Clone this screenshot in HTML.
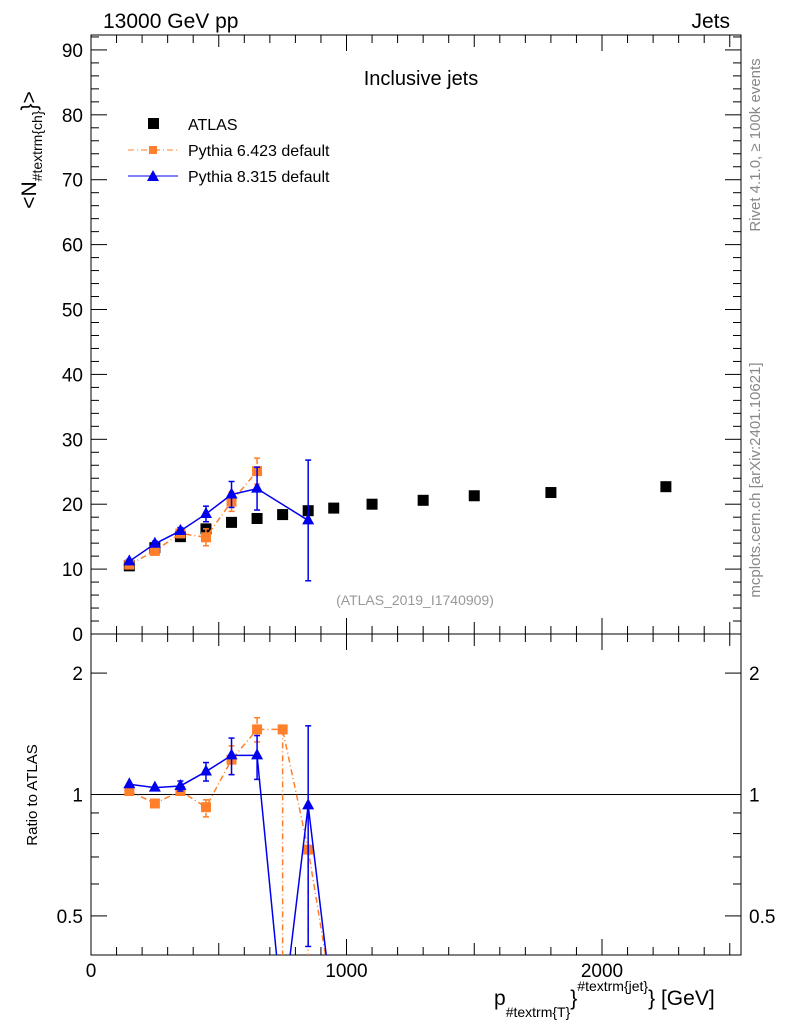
<!DOCTYPE html>
<html><head><meta charset="utf-8">
<style>
html,body{margin:0;padding:0;background:#fff;overflow:hidden;width:786px;height:1024px;}
svg{display:block;font-family:"Liberation Sans",sans-serif;}
</style></head>
<body>
<svg id="chart" width="786" height="1024" viewBox="0 0 786 1024">
<text x="103" y="28" font-size="21">13000 GeV pp</text>
<text x="730" y="28" font-size="21" text-anchor="end">Jets</text>
<text x="421" y="85" font-size="20" text-anchor="middle">Inclusive jets</text>
<text transform="translate(760,145) rotate(-90)" font-size="15" fill="#888" text-anchor="middle">Rivet 4.1.0, ≥ 100k events</text>
<text transform="translate(760,480) rotate(-90)" font-size="15" fill="#888" text-anchor="middle">mcplots.cern.ch [arXiv:2401.10621]</text>
<text x="415" y="605" font-size="14" fill="#999" text-anchor="middle">(ATLAS_2019_I1740909)</text>
<text transform="translate(36,150) rotate(-90)" font-size="21" text-anchor="middle">&lt;N<tspan font-size="14" dy="6">#textrm{ch}</tspan><tspan dy="-6">}&gt;</tspan></text>
<text transform="translate(37,795) rotate(-90)" font-size="15" text-anchor="middle">Ratio to ATLAS</text>
<text x="494" y="1005" font-size="21">p<tspan font-size="14" dy="12">#textrm{T}</tspan><tspan font-size="21" dy="-12">}</tspan><tspan font-size="14" dy="-14">#textrm{jet}</tspan><tspan font-size="21" dy="14">} [GeV]</tspan></text>
<g>
  <g><rect x="148" y="118" width="11" height="11" fill="#000"/><text x="188" y="130" font-size="16">ATLAS</text></g>
  <g><line x1="128" y1="150" x2="178" y2="150" stroke="#ff7f2a" stroke-dasharray="6,3,1,3"/><rect x="149" y="146" width="8" height="8" fill="#ff7f2a"/><text x="188" y="156" font-size="16">Pythia 6.423 default</text></g>
  <g><line x1="128" y1="176" x2="178" y2="176" stroke="#0000ee"/><polygon points="153,170 147,181 159,181" fill="#0000ee"/><text x="188" y="182" font-size="16">Pythia 8.315 default</text></g>
</g>
<g id="axes"></g>
<g id="marks"></g>
</svg>
<script>
const atlasX=[150,250,350,450,550,650,750,850,950,1100,1300,1500,1800,2250];
const atlasY=[10.5,13.3,15.0,16.2,17.2,17.8,18.4,19.0,19.4,20.0,20.6,21.3,21.8,22.7];
const py6X=[150,250,350,450,550,650];
const py6Y=[10.7,12.8,15.5,14.9,20.4,25.1];
const py6Up=[0.4,0.5,0.6,1.3,1.5,2.0];
const py6Dn=[0.4,0.5,0.6,1.3,1.5,2.0];
const py8X=[150,250,350,450,550,650,850];
const py8Y=[11.2,13.9,15.9,18.5,21.5,22.4,17.5];
const py8Up=[0.3,0.4,0.5,1.2,2.0,3.3,9.3];
const py8Dn=[0.3,0.4,0.5,1.2,2.0,3.3,9.3];
const r6X=[150,250,350,450,550,650,750,850,950];
const r6Y=[1.02,0.95,1.02,0.93,1.22,1.45,1.45,0.73,0.3];
const r6Up=[0,0,0,0.04,0.1,0.1,0,0,0];
const r6Dn=[0,0,0,0.05,0.1,0.1,1.44,0.72,0];
const r8X=[150,250,350,450,550,650,750,850,950];
const r8Y=[1.06,1.04,1.05,1.14,1.25,1.25,0.28,0.94,0.28];
const r8Up=[0,0,0.03,0.06,0.13,0.15,0,0.54,0];
const r8Dn=[0,0,0.03,0.06,0.13,0.16,0,0.52,0];
const yTicks=[0,10,20,30,40,50,60,70,80,90];
const rTicks=[0.5,1,2];
const xTicks=[0,1000,2000];

const L=91,R=741,T=35,MB=634,RB=955;
const X0=0,X1=2544,Y1=92.3,RMIN=0.4,RMAX=2.5;
const sx=v=>L+(v-X0)/(X1-X0)*(R-L);
const sy=v=>MB-v/Y1*(MB-T);
const sr=v=>RB-(Math.log(Math.max(v,0.01))-Math.log(RMIN))/(Math.log(RMAX)-Math.log(RMIN))*(RB-MB);
const NS='http://www.w3.org/2000/svg';
function mk(tag,attrs,parent){const e=document.createElementNS(NS,tag);for(const k in attrs)e.setAttribute(k,attrs[k]);parent.appendChild(e);return e;}
const axes=document.getElementById('axes'),marks=document.getElementById('marks');

let f=mk('rect',{x:L,y:T,width:R-L,height:MB-T,fill:'none',stroke:'#000','stroke-width':1},axes);


f=mk('rect',{x:L,y:MB,width:R-L,height:RB-MB,fill:'none',stroke:'#000','stroke-width':1},axes);


for(let v=0;v<=92;v+=2){const y=sy(v);const len=v%10===0?16:8;
 mk('line',{x1:L,y1:y,x2:L+len,y2:y,stroke:'#000'},axes);mk('line',{x1:R,y1:y,x2:R-len,y2:y,stroke:'#000'},axes);}
yTicks.forEach(v=>{const t=mk('text',{x:L-8,y:sy(v)+7,'font-size':19,'text-anchor':'end'},axes);t.textContent=v;
 
 });
for(let v=0;v<=2500;v+=100){const x=sx(v);const len=v%500===0?(v%1000===0?16:12):8;
 [[T,1],[MB,-1],[MB,1],[RB,-1]].forEach(([y0,d])=>mk('line',{x1:x,y1:y0,x2:x,y2:y0+d*len,stroke:'#000'},axes));}
xTicks.forEach(v=>{const t=mk('text',{x:sx(v),y:RB+22,'font-size':19,'text-anchor':'middle'},axes);t.textContent=v;
 
 });
[0.4,0.5,0.6,0.7,0.8,0.9,1,2].forEach(v=>{const y=sr(v);const len=(v===0.5||v===1||v===2)?16:8;
 mk('line',{x1:L,y1:y,x2:L+len,y2:y,stroke:'#000'},axes);mk('line',{x1:R,y1:y,x2:R-len,y2:y,stroke:'#000'},axes);});
rTicks.forEach(v=>{[[L-8,'end'],[R+8,'start']].forEach(([x,a])=>{const t=mk('text',{x:x,y:sr(v)+7,'font-size':19,'text-anchor':a},axes);t.textContent=v;
 
 });});
mk('line',{x1:L,y1:sr(1),x2:R,y2:sr(1),stroke:'#000'},axes);

const defs=mk('defs',{},marks);
const c1=mk('clipPath',{id:'cm'},defs);mk('rect',{x:L,y:T,width:R-L,height:MB-T},c1);
const c2=mk('clipPath',{id:'cr'},defs);mk('rect',{x:L,y:MB,width:R-L,height:RB-MB},c2);
const gm=mk('g',{'clip-path':'url(#cm)'},marks),gr=mk('g',{'clip-path':'url(#cr)'},marks);

function series(g,xs,ys,up,dn,color,dash,shape,ysc,name){
 const pl=mk('polyline',{points:xs.map((x,i)=>sx(x)+','+ysc(ys[i])).join(' '),fill:'none',stroke:color,'stroke-width':1.5,'stroke-dasharray':dash},g);
 
 
 xs.forEach((x,i)=>{const cx=sx(x),cy=ysc(ys[i]);
  if(up[i]>0||dn[i]>0){const y1=ysc(ys[i]+up[i]),y2=ysc(Math.max(ys[i]-dn[i],0.01));
   mk('line',{x1:cx,y1:y1,x2:cx,y2:y2,stroke:color,'stroke-width':1.5,'stroke-dasharray':dash},g);
   if(up[i]>0)mk('line',{x1:cx-3,y1:y1,x2:cx+3,y2:y1,stroke:color,'stroke-width':1.5},g);
   mk('line',{x1:cx-3,y1:y2,x2:cx+3,y2:y2,stroke:color,'stroke-width':1.5},g);}
  if(cy>RB)return;
  let m;
  if(shape==='tri')m=mk('polygon',{points:`${cx},${cy-7} ${cx-6},${cy+4} ${cx+6},${cy+4}`,fill:color},g);
  else m=mk('rect',{x:cx-5,y:cy-5,width:10,height:10,fill:color},g);
  
  });
}
atlasX.forEach((x,i)=>{const m=mk('rect',{x:sx(x)-5.5,y:sy(atlasY[i])-5.5,width:11,height:11,fill:'#000'},gm);
 
 });
series(gm,py6X,py6Y,py6Up,py6Dn,'#ff7f2a','6,3,1,3','sq',sy,'pythia6');
series(gm,py8X,py8Y,py8Up,py8Dn,'#0000ee','','tri',sy,'pythia8');
series(gr,r6X,r6Y,r6Up,r6Dn,'#ff7f2a','6,3,1,3','sq',sr,'pythia6-ratio');
series(gr,r8X,r8Y,r8Up,r8Dn,'#0000ee','','tri',sr,'pythia8-ratio');
</script>
</body></html>
